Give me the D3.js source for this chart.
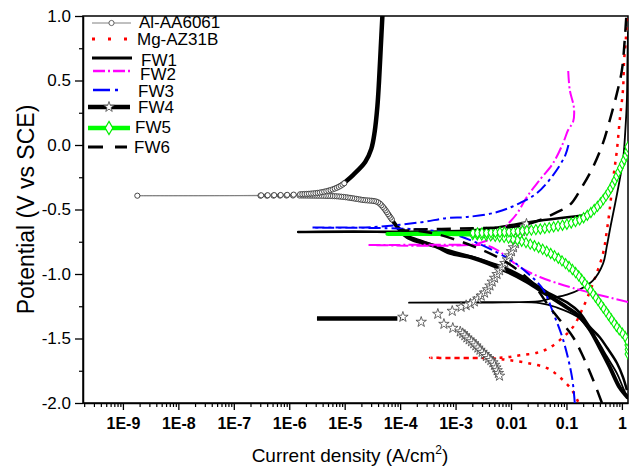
<!DOCTYPE html>
<html>
<head>
<meta charset="utf-8">
<script src="https://cdn.jsdelivr.net/npm/d3@7"></script>
<style>
  body { margin: 0; background: #fff; }
  svg { font-family: "Liberation Sans", Arial, sans-serif; }
</style>
</head>
<body>
<svg id="chart" width="630" height="470"></svg>
<script>
// every curve is a list of [log10(current density), potential V vs SCE]
// cathodic end -> Ecorr spike -> anodic end

var alAA6061 = [
    [0.11, -1.96], [-0.04, -1.88], [-0.22, -1.72], [-0.40, -1.57], [-0.58, -1.43],
    [-0.76, -1.33], [-0.99, -1.26], [-1.35, -1.16], [-1.71, -1.06], [-2.07, -0.98],
    [-2.68, -0.876], [-3.10, -0.837], [-3.33, -0.79], [-3.64, -0.752], [-3.87, -0.713],
    [-4.05, -0.636], [-4.18, -0.558], [-4.31, -0.48], [-4.41, -0.442], [-4.67, -0.426],
    [-5.08, -0.40], [-5.70, -0.392], [-6.52, -0.393], [-8.74, -0.393],
    [-6.50, -0.39], [-5.80, -0.382], [-5.39, -0.364], [-5.08, -0.318], [-4.85, -0.233],
    [-4.63, -0.132], [-4.52, -0.03], [-4.46, 0.10], [-4.41, 0.30], [-4.38, 0.50],
    [-4.35, 0.75], [-4.32, 1.0]
];

var mgAZ31B = [
    [-0.79, -1.99], [-0.90, -1.90], [-1.12, -1.80], [-1.35, -1.73], [-1.71, -1.69],
    [-2.05, -1.667], [-2.30, -1.655], [-3.46, -1.65],
    [-2.32, -1.65], [-2.07, -1.645], [-1.84, -1.63], [-1.53, -1.61], [-1.30, -1.57],
    [-1.06, -1.49], [-0.88, -1.41], [-0.70, -1.26], [-0.52, -1.07], [-0.34, -0.84],
    [-0.27, -0.66], [-0.22, -0.50], [-0.16, -0.27], [-0.09, -0.04], [-0.04, 0.19],
    [0.02, 0.43], [0.04, 0.66], [0.07, 0.81], [0.09, 1.0]
];

var fw1 = [
    [0.09, -1.90], [0.02, -1.80], [-0.09, -1.69], [-0.27, -1.57], [-0.40, -1.49],
    [-0.58, -1.41], [-0.76, -1.30], [-0.99, -1.22], [-1.35, -1.14], [-1.71, -1.04],
    [-2.07, -0.96], [-2.68, -0.87], [-3.10, -0.82], [-3.64, -0.74], [-4.00, -0.69],
    [-4.20, -0.676], [-5.84, -0.674],
    [-4.20, -0.672], [-3.30, -0.670], [-2.50, -0.655], [-1.71, -0.60], [-0.64, -0.543]
];

var fw1Scan2 = [
    [0.11, -1.97], [0.02, -1.88], [-0.09, -1.77], [-0.27, -1.64], [-0.45, -1.51],
    [-0.63, -1.41], [-0.81, -1.33], [-1.17, -1.26], [-1.48, -1.225], [-2.50, -1.222],
    [-3.84, -1.222],
    [-2.50, -1.218], [-1.48, -1.21], [-1.30, -1.19], [-0.99, -1.16], [-0.76, -1.12],
    [-0.52, -1.05], [-0.34, -0.92], [-0.27, -0.78], [-0.20, -0.62], [-0.12, -0.45],
    [-0.04, -0.27], [0.02, -0.12], [0.06, 0.10], [0.09, 0.35], [0.10, 0.65],
    [0.11, 0.88]
];

var fw2 = [
    [0.11, -1.217], [-0.88, -1.109], [-1.48, -1.023], [-1.84, -0.946], [-2.25, -0.814],
    [-2.43, -0.78], [-2.70, -0.775], [-4.57, -0.775],
    [-2.70, -0.772], [-2.43, -0.74], [-2.25, -0.71], [-2.07, -0.62], [-1.89, -0.53],
    [-1.71, -0.40], [-1.48, -0.27], [-1.24, -0.14], [-1.06, 0.016], [-0.97, 0.116],
    [-0.88, 0.18], [-0.865, 0.287], [-0.94, 0.426], [-0.97, 0.589]
];

var fw3 = [
    [-0.85, -2.0], [-0.90, -1.80], [-1.06, -1.51], [-1.24, -1.30], [-1.42, -1.12],
    [-1.71, -0.99], [-2.07, -0.876], [-2.97, -0.70], [-3.50, -0.66], [-4.23, -0.645],
    [-5.59, -0.64],
    [-4.50, -0.636], [-3.64, -0.60], [-3.15, -0.566], [-2.79, -0.558], [-2.25, -0.52],
    [-1.84, -0.45], [-1.53, -0.372], [-1.24, -0.233], [-1.02, -0.078], [-0.955, 0.016]
];

var fw4 = [[-5.50, -1.345], [-4.05, -1.345]];
var fw4StarsUp = [
    [-3.95, -1.333], [-3.62, -1.372], [-3.32, -1.31], [-3.06, -1.287], [-2.90, -1.256],
    [-2.70, -1.225], [-2.56, -1.178], [-2.43, -1.124], [-2.32, -1.047], [-2.20, -0.969],
    [-2.07, -0.891], [-1.96, -0.798], [-1.87, -0.721], [-1.80, -0.659], [-1.71, -0.605]
];
var fw4StarsDown = [
    [-3.21, -1.388], [-3.05, -1.419], [-2.88, -1.457], [-2.79, -1.496], [-2.68, -1.535],
    [-2.56, -1.589], [-2.43, -1.643], [-2.32, -1.690], [-2.20, -1.798]
];

var fw5 = [
    [0.11, -1.62], [0.09, -1.51], [-0.09, -1.41], [-0.34, -1.26], [-0.58, -1.12],
    [-0.88, -0.97], [-1.30, -0.837], [-1.89, -0.736], [-2.50, -0.70], [-3.30, -0.69],
    [-4.23, -0.69],
    [-3.28, -0.685], [-2.07, -0.674], [-1.30, -0.64], [-0.76, -0.58], [-0.45, -0.48],
    [-0.22, -0.35], [-0.04, -0.19], [0.09, -0.06], [0.11, 0.0]
];

var fw6 = [
    [-0.36, -2.0], [-0.52, -1.82], [-0.70, -1.64], [-0.88, -1.49], [-1.17, -1.33],
    [-1.30, -1.26], [-1.66, -1.05], [-2.20, -0.88], [-3.10, -0.72], [-3.60, -0.67],
    [-4.00, -0.66],
    [-2.68, -0.645], [-1.89, -0.63], [-1.50, -0.585], [-1.17, -0.52], [-0.94, -0.465],
    [-0.72, -0.325], [-0.52, -0.17], [-0.34, 0.016], [-0.22, 0.19], [-0.09, 0.40],
    [0.0, 0.58], [0.05, 0.81], [0.08, 1.0]
];

var legendNames = ["Al-AA6061", "Mg-AZ31B", "FW1", "FW2", "FW3", "FW4", "FW5", "FW6"];
var xTickExps = [-9, -8, -7, -6, -5, -4, -3, -2, -1, 0];
var xTickLabels = ["1E-9", "1E-8", "1E-7", "1E-6", "1E-5", "1E-4", "1E-3", "0.01", "0.1", "1"];
var yTicks = [-2.0, -1.5, -1.0, -0.5, 0.0, 0.5, 1.0];

var svg = d3.select("#chart");
var pL = 83, pR = 628, pT = 16, pB = 403;

var x = d3.scaleLog()
    .domain([Math.pow(10, -9.72), Math.pow(10, 0.11)])
    .range([pL, pR]);
var y = d3.scaleLinear().domain([-2, 1]).range([pB, pT]);

svg.append("defs").append("clipPath").attr("id", "plotclip")
    .append("rect")
    .attr("x", pL).attr("y", pT)
    .attr("width", pR - pL).attr("height", pB - pT);

var line = d3.line()
    .x(function (d) { return x(Math.pow(10, d[0])); })
    .y(function (d) { return y(d[1]); })
    .curve(d3.curveCatmullRom.alpha(0.5));

// minor ticks
var minorX = [];
for (var e = -10; e <= 0; e++) {
    for (var m = 2; m <= 9; m++) {
        var v = m * Math.pow(10, e);
        if (v > x.domain()[0] && v < x.domain()[1]) minorX.push(v);
    }
}
svg.append("g")
    .attr("transform", "translate(0," + pB + ")")
    .call(d3.axisBottom(x).tickValues(minorX).tickSize(4).tickFormat(""))
    .call(function (g) { g.select(".domain").remove(); })
    .selectAll("line").attr("stroke-width", 1.2);

var xAxis = svg.append("g")
    .attr("transform", "translate(0," + pB + ")")
    .call(d3.axisBottom(x)
        .tickValues(xTickExps.map(function (k) { return Math.pow(10, k); }))
        .tickSize(7).tickSizeOuter(0).tickPadding(8)
        .tickFormat(function (d, i) { return xTickLabels[i]; }));
xAxis.select(".domain").attr("stroke-width", 1.5);
xAxis.selectAll("line").attr("stroke-width", 1.3);
xAxis.selectAll("text")
    .style("font-size", "16px").style("font-weight", "bold")
    .style("font-family", "Liberation Sans, Arial, sans-serif");

svg.append("g")
    .attr("transform", "translate(" + pL + ",0)")
    .call(d3.axisLeft(y).tickValues(d3.range(-1.75, 1, 0.5)).tickSize(4).tickFormat(""))
    .call(function (g) { g.select(".domain").remove(); })
    .selectAll("line").attr("stroke-width", 1.2);

var yAxis = svg.append("g")
    .attr("transform", "translate(" + pL + ",0)")
    .call(d3.axisLeft(y).tickValues(yTicks).tickSize(8).tickSizeOuter(0).tickPadding(4)
        .tickFormat(function (d) { return d.toFixed(1); }));
yAxis.select(".domain").attr("stroke-width", 1.5);
yAxis.selectAll("line").attr("stroke-width", 1.3);
yAxis.selectAll("text")
    .style("font-size", "17px")
    .style("font-family", "Liberation Sans, Arial, sans-serif");

// frame
svg.append("rect")
    .attr("x", pL).attr("y", pT)
    .attr("width", pR - pL).attr("height", pB - pT)
    .attr("fill", "none").attr("stroke", "#000").attr("stroke-width", 1.5);

// axis titles
svg.append("text")
    .attr("x", 350).attr("y", 462)
    .attr("text-anchor", "middle")
    .style("font-size", "19px")
    .html("Current density (A/cm<tspan dy='-8' font-size='12px'>2</tspan><tspan dy='8'>)</tspan>");

svg.append("text")
    .attr("transform", "translate(34," + ((pT + pB) / 2) + ") rotate(-90)")
    .attr("text-anchor", "middle")
    .style("font-size", "23px")
    .text("Potential (V vs SCE)");

var plot = svg.append("g").attr("clip-path", "url(#plotclip)");

function drawCurve(data, color, width, dash) {
    return plot.append("path")
        .datum(data)
        .attr("fill", "none")
        .attr("stroke", color)
        .attr("stroke-width", width)
        .attr("stroke-dasharray", dash || null)
        .attr("stroke-linejoin", "round")
        .attr("d", line);
}

function sampleAlong(path, stepFn, keep) {
    var node = path.node();
    var total = node.getTotalLength();
    var pts = [];
    for (var s = 0; s <= total; ) {
        var p = node.getPointAtLength(s);
        if (keep(p)) pts.push(p);
        s += stepFn(p);
    }
    return pts;
}

var star = d3.symbol().type(d3.symbolStar).size(34);
var diamond = d3.symbol().type(d3.symbolDiamond).size(30);

// Al-AA6061: thin grey line with open circles; where the circles crowd
// together the branch reads as a solid black band
var alPath = drawCurve(alAA6061, "#808080", 1);
drawCurve(alAA6061.slice(0, 17), "#000", 4);
drawCurve(alAA6061.slice(27), "#000", 4.5);
var alPts = sampleAlong(alPath, function (p) { return p.x < 300 ? 6.5 : 2.2; },
    function (p) { return p.x > 258 && p.x < 392 && p.y > 183 && p.y < 225; });
alPts.push({ x: x(Math.pow(10, alAA6061[23][0])), y: y(alAA6061[23][1]) });
plot.selectAll(".alc").data(alPts).enter().append("circle")
    .attr("cx", function (d) { return d.x; }).attr("cy", function (d) { return d.y; })
    .attr("r", 2.6).attr("fill", "#fff").attr("stroke", "#333").attr("stroke-width", 0.9);

// Mg-AZ31B
drawCurve(mgAZ31B, "#ff0000", 2.5, "3,6");

// FW1
drawCurve(fw1, "#000", 2.5);
plot.append("circle")
    .attr("cx", x(Math.pow(10, fw1[fw1.length - 1][0])))
    .attr("cy", y(fw1[fw1.length - 1][1]))
    .attr("r", 2.6).attr("fill", "#000");
drawCurve(fw1Scan2, "#000", 1.8);

// FW2, FW3
drawCurve(fw2, "#ff00ff", 2, "12,3,2,3");
drawCurve(fw3, "#0000ff", 2, "12,4,3,4");

// FW4: thick black with stars
drawCurve(fw4, "#000", 4.5);
plot.append("circle")
    .attr("cx", x(Math.pow(10, -3.96))).attr("cy", y(-1.34))
    .attr("r", 2.5).attr("fill", "#000");
var upPath = drawCurve(fw4StarsUp, "none", 0);
var downPath = drawCurve(fw4StarsDown, "none", 0);
var starPts = fw4StarsUp.slice(0, 5).concat(fw4StarsDown.slice(0, 2)).map(function (d) {
    return { x: x(Math.pow(10, d[0])), y: y(d[1]) };
});
starPts = starPts.concat(sampleAlong(upPath, function () { return 4.5; },
    function (p) { return p.x > 462; }));
starPts = starPts.concat(sampleAlong(downPath, function () { return 3; },
    function (p) { return p.x > 460; }));
plot.selectAll(".st").data(starPts).enter().append("path")
    .attr("d", star)
    .attr("transform", function (d) { return "translate(" + d.x + "," + d.y + ")"; })
    .attr("fill", "#fff").attr("stroke", "#444").attr("stroke-width", 0.8);

// FW5: green with open diamonds
var fw5Path = drawCurve(fw5, "#00ff00", 4);
var fw5Pts = sampleAlong(fw5Path, function () { return 4.5; },
    function (p) { return p.x > 470; });
plot.selectAll(".dm").data(fw5Pts).enter().append("path")
    .attr("d", diamond)
    .attr("transform", function (d) { return "translate(" + d.x + "," + d.y + ")"; })
    .attr("fill", "#fff").attr("stroke", "#00ee00").attr("stroke-width", 1.1);

// FW6
drawCurve(fw6, "#000", 2.5, "14,9");

// legend
var legLineY = [23, 39, 58, 71, 90, 107, 128, 147];
var legTextX = [139, 137, 141, 140, 138, 138, 135, 134];
var legTextY = [28, 45, 66, 80, 97, 113, 133, 153];
var legStyle = [
    { c: "#808080", w: 1, dash: null, mk: "circle", x1: 92, x2: 131 },
    { c: "#ff0000", w: 3, dash: "3,13", mk: null, x1: 92, x2: 127 },
    { c: "#000", w: 3, dash: null, mk: null, x1: 92, x2: 132 },
    { c: "#ff00ff", w: 2.5, dash: "12,3,2,3", mk: null, x1: 93, x2: 130 },
    { c: "#0000ff", w: 2.5, dash: "17,5,3,30", mk: null, x1: 93, x2: 119 },
    { c: "#000", w: 4.5, dash: null, mk: "star", x1: 88, x2: 130 },
    { c: "#00ff00", w: 4.5, dash: null, mk: "diamond", x1: 88, x2: 130 },
    { c: "#000", w: 3, dash: "15,12", mk: null, x1: 88, x2: 127 }
];
var leg = svg.append("g");
legendNames.forEach(function (name, i) {
    var st = legStyle[i];
    var ly = legLineY[i];
    var cx = (st.x1 + st.x2) / 2;
    leg.append("line")
        .attr("x1", st.x1).attr("x2", st.x2).attr("y1", ly).attr("y2", ly)
        .attr("stroke", st.c).attr("stroke-width", st.w)
        .attr("stroke-dasharray", st.dash);
    if (st.mk === "circle") {
        leg.append("circle").attr("cx", cx).attr("cy", ly).attr("r", 2.6)
            .attr("fill", "#fff").attr("stroke", "#555").attr("stroke-width", 0.9);
    } else if (st.mk === "star") {
        leg.append("path").attr("d", star).attr("transform", "translate(" + cx + "," + ly + ")")
            .attr("fill", "#fff").attr("stroke", "#444").attr("stroke-width", 0.8);
    } else if (st.mk === "diamond") {
        leg.append("path").attr("d", d3.symbol().type(d3.symbolDiamond).size(50))
            .attr("transform", "translate(" + cx + "," + ly + ")")
            .attr("fill", "#fff").attr("stroke", "#00ee00").attr("stroke-width", 1.2);
    }
    leg.append("text")
        .attr("x", legTextX[i]).attr("y", legTextY[i])
        .style("font-size", "17px")
        .text(name);
});
</script>
</body>
</html>
